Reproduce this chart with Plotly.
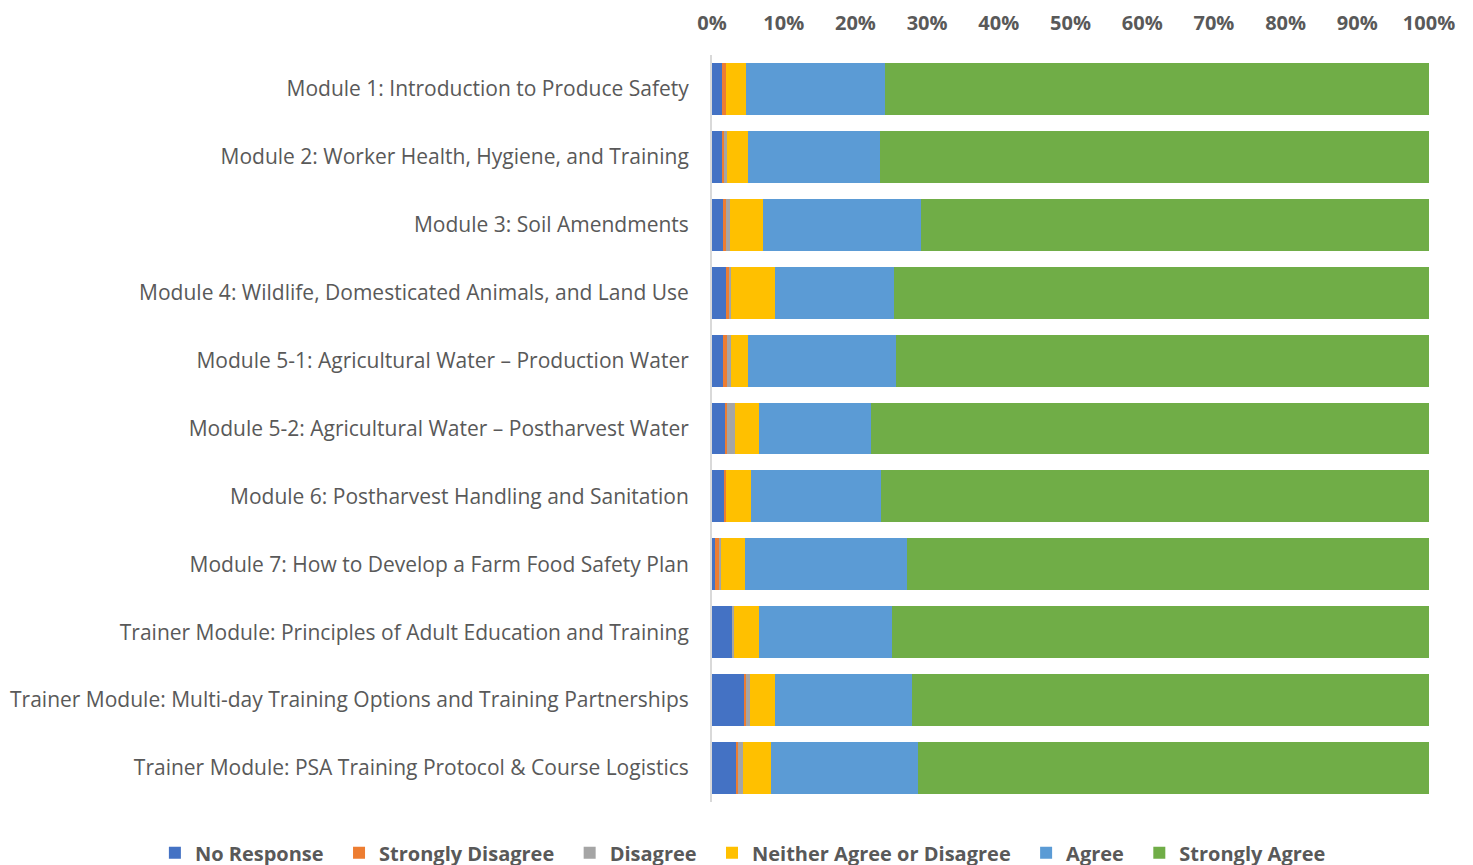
import plotly.graph_objects as go

modules = [
    "Module 1: Introduction to Produce Safety",
    "Module 2: Worker Health, Hygiene, and Training",
    "Module 3: Soil Amendments",
    "Module 4: Wildlife, Domesticated Animals, and Land Use",
    "Module 5-1: Agricultural Water – Production Water",
    "Module 5-2: Agricultural Water – Postharvest Water",
    "Module 6: Postharvest Handling and Sanitation",
    "Module 7: How to Develop a Farm Food Safety Plan",
    "Trainer Module: Principles of Adult Education and Training",
    "Trainer Module: Multi-day Training Options and Training Partnerships",
    "Trainer Module: PSA Training Protocol & Course Logistics",
]

# share of responses, in percent
no_response = [1.35, 1.35, 1.53, 1.95, 1.53, 1.77, 1.77, 0.42, 2.79, 4.42, 3.44]
strongly_disagree = [0.56, 0.37, 0.42, 0.51, 0.51, 0.33, 0.19, 0.56, 0.0, 0.28, 0.23]
disagree = [0.0, 0.37, 0.51, 0.23, 0.65, 1.12, 0.0, 0.23, 0.28, 0.65, 0.60]
neither = [2.9, 2.93, 4.6, 6.14, 2.32, 3.3, 3.44, 3.4, 3.44, 3.49, 4.0]
agree = [19.3, 18.4, 22.1, 16.55, 20.6, 15.7, 18.2, 22.6, 18.6, 19.1, 20.4]
strongly_agree = [75.89, 76.58, 70.84, 74.62, 74.39, 77.78, 76.4, 72.79, 74.89, 72.06, 71.33]

series = [
    ("No Response", no_response, "#4472C4"),
    ("Strongly Disagree", strongly_disagree, "#ED7D31"),
    ("Disagree", disagree, "#A5A5A5"),
    ("Neither Agree or Disagree", neither, "#FFC000"),
    ("Agree", agree, "#5B9BD5"),
    ("Strongly Agree", strongly_agree, "#70AD47"),
]

pad = "\u00a0\u00a0"  # widen legend spacing a little, like the original

fig = go.Figure()
for name, vals, color in series:
    fig.add_trace(go.Bar(
        y=modules,
        x=[v / 100 for v in vals],
        name=name + pad,
        orientation="h",
        marker=dict(color=color, line=dict(width=0)),
    ))

font = "Open Sans, Noto Sans, sans-serif"
fig.update_layout(
    barmode="stack",
    bargap=0.235,
    width=1473,
    height=865,
    margin=dict(l=704, r=52, t=47, b=71, autoexpand=False),
    plot_bgcolor="white",
    paper_bgcolor="white",
    font=dict(family=font, color="#595959"),
    showlegend=True,
    legend=dict(
        orientation="h",
        x=-0.777, xref="paper", xanchor="left",
        y=-0.068, yref="paper", yanchor="middle",
        font=dict(size=20, family=font, weight="bold"),
        traceorder="normal",
        itemwidth=30,
        tracegroupgap=0,
    ),
)
fig.update_xaxes(
    side="top",
    range=[0, 1],
    tickformat=".0%",
    dtick=0.1,
    showgrid=False,
    zeroline=False,
    automargin=False,
    ticklabelstandoff=20,
    tickfont=dict(size=20, weight="bold"),
)
fig.update_yaxes(
    autorange="reversed",
    showline=True,
    linecolor="#D9D9D9",
    linewidth=2,
    automargin=False,
    ticklabelstandoff=17,
    tickfont=dict(size=21),
)

fig.write_html("out.html")
